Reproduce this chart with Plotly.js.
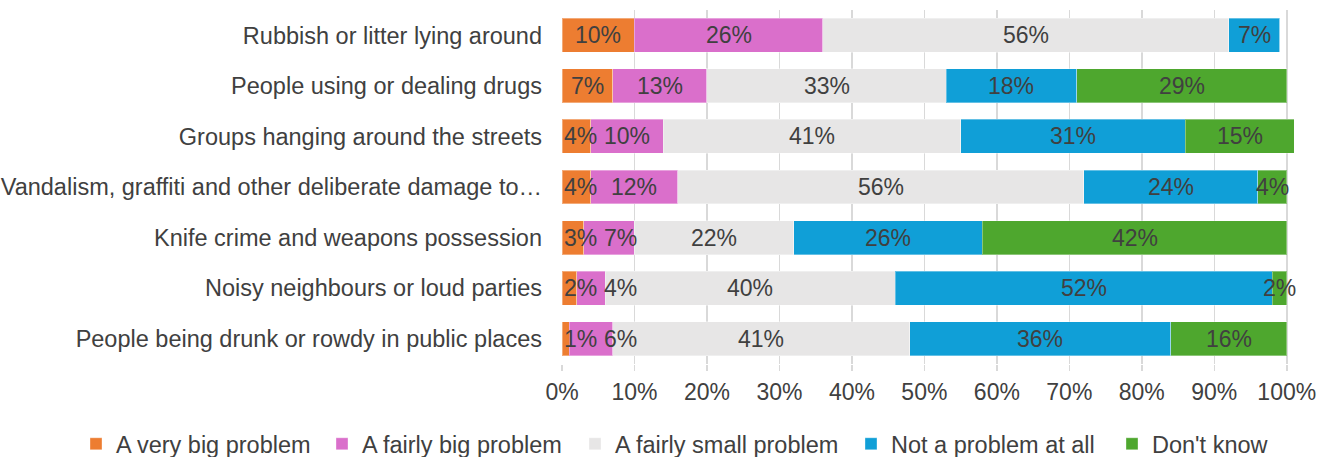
<!DOCTYPE html>
<html>
<head>
<meta charset="utf-8">
<script src="https://cdn.plot.ly/plotly-3.0.1.min.js"></script>
<style>html,body{margin:0;padding:0;background:#fff;}#chart{width:1329px;height:457px;}</style>
</head>
<body>
<div id="chart"></div>
<script>
const categories = [
  "Rubbish or litter lying around",
  "People using or dealing drugs",
  "Groups hanging around the streets",
  "Vandalism, graffiti and other deliberate damage to…",
  "Knife crime and weapons possession",
  "Noisy neighbours or loud parties",
  "People being drunk or rowdy in public places"
];
const seriesNames = ["A very big problem", "A fairly big problem", "A fairly small problem", "Not a problem at all", "Don't know"];
const veryBig    = [10, 7, 4, 4, 3, 2, 1];
const fairlyBig  = [26, 13, 10, 12, 7, 4, 6];
const fairlySmall= [56, 33, 41, 56, 22, 40, 41];
const notProblem = [7, 18, 31, 24, 26, 52, 36];
const dontKnow   = [0, 29, 15, 4, 42, 2, 16];
const tickVals   = [0, 0.1, 0.2, 0.3, 0.4, 0.5, 0.6, 0.7, 0.8, 0.9, 1];
const tickText   = ["0%","10%","20%","30%","40%","50%","60%","70%","80%","90%","100%"];
const colors = ["#ED7D31", "#DA6FCB", "#E7E6E6", "#109FD7", "#4EA72E"];

const W = 1329, H = 457;
const FONT = "Liberation Sans, Arial, sans-serif";
const LABEL_SIZE = 23;
const M = {l: 562, r: 35, t: 10, b: 93};
const X_MAX = 1.01;
const PX_PER_UNIT = (W - M.l - M.r) / X_MAX;
// legend swatch centres (px) along the bottom row, one legend box per series
const legendSwatchX = [98, 344, 597, 873, 1134];
const legendRowY = 444;

const seriesValues = [veryBig, fairlyBig, fairlySmall, notProblem, dontKnow];
const legendIds = seriesValues.map((_, i) => i === 0 ? "legend" : "legend" + (i + 1));
const traces = seriesValues.map((vals, i) => ({
  type: "bar",
  orientation: "h",
  name: seriesNames[i],
  legend: legendIds[i],
  y: categories,
  x: vals.map(v => v / 100),
  marker: {color: colors[i], line: {color: "rgba(255,255,255,0.35)", width: 1}},
  hoverinfo: "skip"
}));

// data labels on top of all bars; nudge small ones right so they don't collide
function textWidth(s) {
  let w = 0;
  for (const ch of s) w += (ch === "%" ? 0.889 : 0.556) * LABEL_SIZE;
  return w;
}
const annotations = [];
categories.forEach((cat, r) => {
  let cum = 0;
  let prevRight = -Infinity;
  seriesValues.forEach((vals) => {
    const v = vals[r];
    const start = cum;
    cum += v / 100;
    if (v <= 0) return;
    const mid = (start + cum) / 2;
    const label = v + "%";
    const w = textWidth(label);
    const centerPx = mid * PX_PER_UNIT;
    let left = centerPx - w / 2;
    const minLeft = Math.max(2, prevRight + 7);
    let shift = 0;
    if (left < minLeft) { shift = minLeft - left; left = minLeft; }
    prevRight = left + w;
    annotations.push({
      x: mid, y: cat, xref: "x", yref: "y",
      text: label, showarrow: false, xshift: shift,
      font: {family: FONT, size: LABEL_SIZE, color: "#404040"}
    });
  });
});

const layout = {
  width: W, height: H,
  barmode: "stack",
  bargap: 0.33,
  margin: M,
  paper_bgcolor: "#fff", plot_bgcolor: "#fff",
  font: {family: FONT, size: 24, color: "#404040"},
  annotations: annotations,
  xaxis: {
    range: [0, X_MAX],
    tickvals: tickVals,
    ticktext: tickText,
    showgrid: true, gridcolor: "#D9D9D9", gridwidth: 1.5,
    zeroline: false, showline: false,
    ticks: "outside", ticklen: 6, tickcolor: "#D9D9D9", tickwidth: 1.5,
    ticklabelstandoff: 1,
    tickfont: {size: 23, color: "#404040"}
  },
  yaxis: {
    categoryorder: "array", categoryarray: categories.slice(),
    autorange: "reversed",
    showgrid: false, zeroline: false, showline: false,
    ticks: "", ticklabelstandoff: 19,
    tickfont: {size: 23.5, color: "#404040"}
  },
  showlegend: true
};
legendIds.forEach((id, i) => {
  layout[id] = {
    orientation: "h",
    xref: "container", x: (legendSwatchX[i] - 22) / W, xanchor: "left",
    yref: "container", y: 1 - legendRowY / H, yanchor: "middle",
    font: {size: 23.5, color: "#404040"},
    itemwidth: 30, bgcolor: "rgba(0,0,0,0)"
  };
});
Plotly.newPlot("chart", traces, layout, {displayModeBar: false, staticPlot: true});
</script>
</body>
</html>
